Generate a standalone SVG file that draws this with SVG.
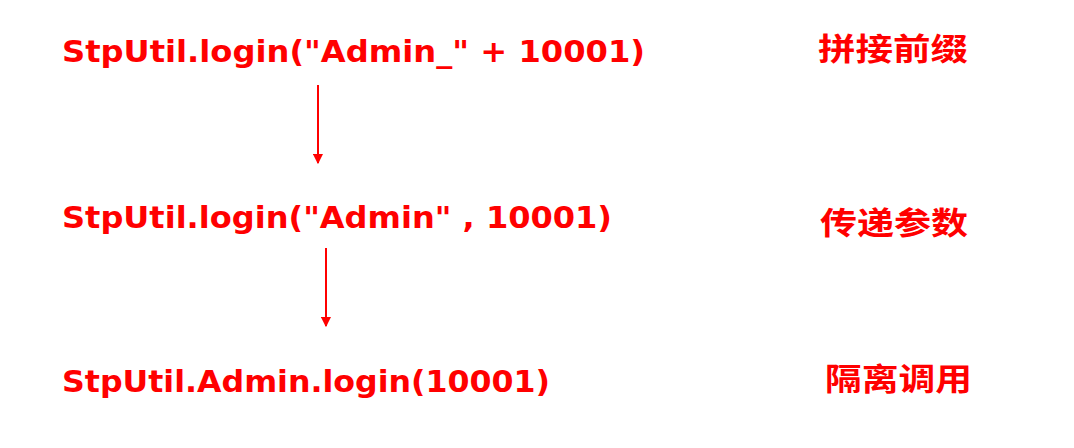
<svg xmlns="http://www.w3.org/2000/svg" width="1074" height="448" viewBox="0 0 1074 448">
<style>
.c{font-family:"DejaVu Sans","Liberation Sans",sans-serif;font-weight:bold;font-size:30px;fill:#ff0000}
.z{font-family:"Noto Sans CJK SC",sans-serif;font-weight:bold;font-size:31px;fill:#ff0000}
.l{stroke:#ff0000;stroke-width:2;fill:none}
</style>
<defs><marker id="a" markerWidth="10" markerHeight="10" refX="9" refY="5" orient="auto" markerUnits="userSpaceOnUse"><path d="M0,0 L10,5 L0,10 Z" fill="#ff0000" transform="scale(1.2) translate(-1.5,-0.8)"/></marker></defs>
<rect width="1074" height="448" fill="#fff"/>
<g id="n1"><text class="c" x="62" y="62" textLength="583" lengthAdjust="spacingAndGlyphs">StpUtil.login("Admin_" + 10001)</text><text class="z" x="818" y="60" textLength="150" lengthAdjust="spacingAndGlyphs">拼接前缀</text></g>
<g id="n2"><text class="c" x="62" y="228" textLength="550" lengthAdjust="spacingAndGlyphs">StpUtil.login("Admin" , 10001)</text><text class="z" x="820" y="234" textLength="148" lengthAdjust="spacingAndGlyphs">传递参数</text></g>
<g id="n3"><text class="c" x="62" y="392" textLength="488" lengthAdjust="spacingAndGlyphs">StpUtil.Admin.login(10001)</text><text class="z" x="825" y="390" textLength="147" lengthAdjust="spacingAndGlyphs">隔离调用</text></g>
<g id="connectors">
<line class="l" x1="318" y1="85" x2="318" y2="163" marker-end="url(#a)"/>
<line class="l" x1="326" y1="248" x2="326" y2="326" marker-end="url(#a)"/>
</g>
</svg>
